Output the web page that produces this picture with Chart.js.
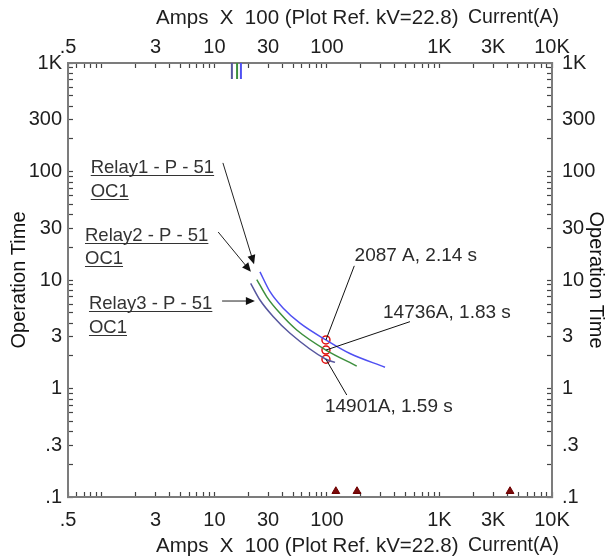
<!DOCTYPE html>
<html>
<head>
<meta charset="utf-8">
<script src="https://cdn.jsdelivr.net/npm/chart.js@4.4.1/dist/chart.umd.min.js"></script>
<style>
  html, body { margin: 0; padding: 0; background: #fff; }
  canvas { display: block; }
</style>
</head>
<body>
<canvas id="tcc" width="609" height="560"></canvas>
<script>
// Current in Amps x 100, operation time in seconds
const relay1Amps = [25.4, 31.2, 40.9, 57.6, 98, 160, 328];
const relay1Time = [11.9, 7.8, 5.5, 4.0, 2.8, 2.1, 1.57];
const relay2Amps = [23.8, 29.2, 38.3, 53.9, 98, 184];
const relay2Time = [10.1, 7.0, 4.93, 3.46, 2.26, 1.61];
const relay3Amps = [21.0, 25.4, 33.4, 47.0, 98, 118];
const relay3Time = [9.33, 6.54, 4.59, 3.23, 1.86, 1.74];

// operating points marked with red circles
const opAmps = [98, 98, 98];
const opTime = [2.8, 2.26, 1.86];

// instantaneous pickup stubs at the top edge
const instAmps = [14.3, 15.9, 17.2];
const instTop = [1000, 1000, 1000];
const instBottom = [712, 712, 712];

// fault markers on the bottom edge
const faultAmps = [120, 185, 4236];
const faultTime = [0.113, 0.113, 0.113];

// tick labels
const xTickValues = [0.5, 3, 10, 30, 100, 1000, 3000, 10000];
const xTickLabels = ['.5', '3', '10', '30', '100', '1K', '3K', '10K'];
const yTickValues = [0.1, 0.3, 1, 3, 10, 30, 100, 300, 1000];
const yTickLabels = ['.1', '.3', '1', '3', '10', '30', '100', '300', '1K'];

const relayNames = ['Relay1 - P - 51', 'Relay2 - P - 51', 'Relay3 - P - 51'];
const calloutTexts = ['2087 A, 2.14 s', '14736A, 1.83 s', '14901A, 1.59 s'];

const FONT = 'Arial, "Liberation Sans", sans-serif';
const colors = ['#4f50f2', '#3d8f3d', '#56569e'];

const pts = (xs, ys) => xs.map((v, i) => ({ x: v, y: ys[i] }));

function labelFor(values, labels, v) {
    for (let i = 0; i < values.length; i++) {
        if (Math.abs(Math.log10(values[i]) - Math.log10(v)) < 1e-6) return labels[i];
    }
    return '';
}

// keep only 1..9 x 10^n ticks (drop the 1.5 steps)
function cleanTicks(scale) {
    scale.ticks = scale.ticks.filter(t => {
        const m = t.value / Math.pow(10, Math.floor(Math.log10(t.value) + 1e-9));
        return Math.abs(m - Math.round(m)) < 1e-6;
    });
}

function logAxis(pos, min, max, values, labels, size, pad, titleText) {
    const horizontal = pos === 'top' || pos === 'bottom';
    return {
        type: 'logarithmic',
        position: pos,
        min: min,
        max: max,
        afterBuildTicks: cleanTicks,
        afterFit: (s) => { if (horizontal) s.height = size; else s.width = size; },
        border: { display: true, color: '#7c7c7c', width: 2 },
        grid: { display: true, drawOnChartArea: false, drawTicks: true, tickLength: -5, tickColor: '#444', tickWidth: 1.2 },
        ticks: {
            autoSkip: false, maxRotation: 0, padding: pad, color: '#1e1e1e',
            font: { family: FONT, size: 20 },
            callback: (v) => labelFor(values, labels, v)
        },
        title: titleText ? { display: true, text: titleText, color: '#111', font: { family: FONT, size: 20 }, padding: { top: pos === 'left' ? 7 : 1, bottom: 0 } } : { display: false }
    };
}

// Arrows, callouts, relay labels and the top/bottom axis titles
const notes = {
    relays: [
        { x: 0.796, y1: 96.9, y2: 58.2 },
        { x: 0.708, y1: 23.1, y2: 14.0 },
        { x: 0.768, y1: 5.40, y2: 3.25 }
    ],
    arrows: [
        { from: [11.9, 120], to: [22.5, 14.0] },
        { from: [10.8, 27.7], to: [21.1, 11.9] },
        { from: [11.7, 6.4], to: [22.9, 6.4] }
    ],
    callouts: [
        { from: 0, to: [175, 13.5], text: [176, 15.0] },
        { from: 1, to: [547, 4.13], text: [315, 4.50] },
        { from: 2, to: [150, 0.871], text: [96, 0.607] }
    ]
};

const notesPlugin = {
    id: 'notes',
    afterDatasetsDraw(chart) {
        const ctx = chart.ctx;
        const xs = chart.scales.x, ys = chart.scales.y;
        const px = v => xs.getPixelForValue(v);
        const py = v => ys.getPixelForValue(v);
        ctx.save();

        // relay labels with underline
        ctx.font = '18.5px ' + FONT;
        ctx.fillStyle = '#333';
        ctx.strokeStyle = '#333';
        ctx.lineWidth = 1;
        ctx.textBaseline = 'alphabetic';
        notes.relays.forEach((r, i) => {
            [[relayNames[i], r.y1], ['OC1', r.y2]].forEach(([txt, yv]) => {
                const x = px(r.x), y = py(yv);
                ctx.fillText(txt, x, y);
                const w = ctx.measureText(txt).width;
                ctx.beginPath();
                ctx.moveTo(x, Math.round(y) + 2.5);
                ctx.lineTo(x + w, Math.round(y) + 2.5);
                ctx.stroke();
            });
        });

        // arrows
        ctx.strokeStyle = '#222';
        ctx.fillStyle = '#111';
        notes.arrows.forEach(a => {
            const x1 = px(a.from[0]), y1 = py(a.from[1]);
            const x2 = px(a.to[0]), y2 = py(a.to[1]);
            const ang = Math.atan2(y2 - y1, x2 - x1);
            ctx.beginPath();
            ctx.moveTo(x1, y1);
            ctx.lineTo(x2 - 6 * Math.cos(ang), y2 - 6 * Math.sin(ang));
            ctx.stroke();
            ctx.beginPath();
            ctx.moveTo(x2, y2);
            ctx.lineTo(x2 - 9 * Math.cos(ang) + 4 * Math.sin(ang), y2 - 9 * Math.sin(ang) - 4 * Math.cos(ang));
            ctx.lineTo(x2 - 9 * Math.cos(ang) - 4 * Math.sin(ang), y2 - 9 * Math.sin(ang) + 4 * Math.cos(ang));
            ctx.closePath();
            ctx.fill();
        });

        // callouts
        ctx.font = '19px ' + FONT;
        ctx.fillStyle = '#2a2a2a';
        ctx.strokeStyle = '#111';
        notes.callouts.forEach((c, i) => {
            ctx.beginPath();
            ctx.moveTo(px(opAmps[c.from]), py(opTime[c.from]));
            ctx.lineTo(px(c.to[0]), py(c.to[1]));
            ctx.stroke();
            ctx.fillText(calloutTexts[i], px(c.text[0]), py(c.text[1]));
        });

        // top and bottom axis titles
        ctx.fillStyle = '#1e1e1e';
        ctx.textBaseline = 'middle';
        [18, 546].forEach(y => {
            ctx.font = '20.5px ' + FONT;
            ctx.fillText('Amps  X  100 (Plot Ref. kV=22.8)', 156, y);
            ctx.font = '19.5px ' + FONT;
            ctx.fillText('Current(A)', 468, y);
        });
        ctx.restore();
    }
};

const curve = (data, color) => ({
    data: data, showLine: true, borderColor: color, borderWidth: 1.5,
    pointRadius: 0, cubicInterpolationMode: 'monotone', fill: false
});

const datasets = [
    curve(pts(relay1Amps, relay1Time), colors[0]),
    curve(pts(relay2Amps, relay2Time), colors[1]),
    curve(pts(relay3Amps, relay3Time), colors[2])
];
instAmps.forEach((a, i) => {
    datasets.push({
        data: [{ x: a, y: instTop[i] }, { x: a, y: instBottom[i] }],
        showLine: true, borderColor: [colors[2], colors[1], colors[0]][i], borderWidth: 2, pointRadius: 0
    });
});
datasets.push({
    data: pts(opAmps, opTime), showLine: false, pointStyle: 'circle', pointRadius: 4,
    pointBorderColor: '#e01010', pointBackgroundColor: 'rgba(0,0,0,0)', pointBorderWidth: 1.5
});
datasets.push({
    data: pts(faultAmps, faultTime), showLine: false, pointStyle: 'triangle', pointRadius: 4.5,
    pointBorderColor: '#6e0000', pointBackgroundColor: '#7a0a0a', pointBorderWidth: 1
});

new Chart(document.getElementById('tcc').getContext('2d'), {
    type: 'scatter',
    data: { datasets: datasets },
    options: {
        responsive: false,
        animation: false,
        layout: { padding: 0 },
        plugins: { legend: { display: false }, tooltip: { enabled: false } },
        scales: {
            x: logAxis('bottom', 0.5, 10000, xTickValues, xTickLabels, 63, 16),
            x2: logAxis('top', 0.5, 10000, xTickValues, xTickLabels, 63, 9),
            y: logAxis('left', 0.1, 1000, yTickValues, yTickLabels, 68, 11, 'Operation Time'),
            y2: logAxis('right', 0.1, 1000, yTickValues, yTickLabels, 57, 15, 'Operation Time')
        }
    },
    plugins: [notesPlugin]
});
</script>
</body>
</html>
